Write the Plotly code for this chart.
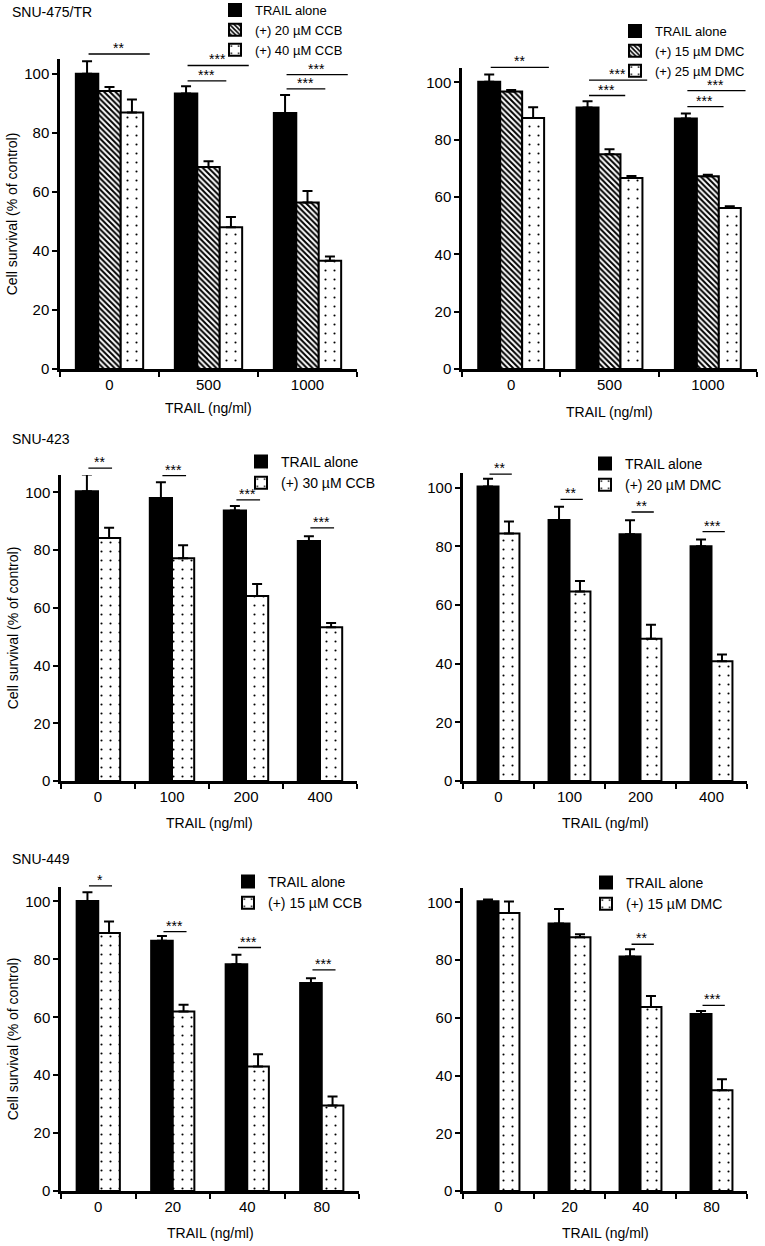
import plotly.graph_objects as go

FONT = "Liberation Sans, Arial, Helvetica, sans-serif"
W, H = 765, 1246

# ---------------- data ----------------
# SNU-475/TR + CCB
doses_475 = ["0", "500", "1000"]
trail_475a = [100.0, 93.3, 86.7]
trail_475a_err = [4.2, 2.5, 6.1]
ccb20_475 = [94.2, 68.4, 56.4]
ccb20_475_err = [1.3, 2.0, 3.9]
ccb40_475 = [86.9, 48.0, 36.7]
ccb40_475_err = [4.4, 3.5, 1.4]

# SNU-475/TR + DMC
trail_475b = [100.2, 91.2, 87.4]
trail_475b_err = [2.5, 2.2, 1.7]
dmc15_475 = [96.8, 74.9, 67.2]
dmc15_475_err = [0.5, 1.8, 0.6]
dmc25_475 = [87.6, 66.6, 56.2]
dmc25_475_err = [3.7, 0.7, 0.6]

# SNU-423
doses_423 = ["0", "100", "200", "400"]
trail_423a = [100.4, 98.0, 93.7, 83.1]
trail_423a_err = [5.8, 5.5, 1.6, 1.7]
ccb30_423 = [84.2, 77.2, 64.1, 53.3]
ccb30_423_err = [3.5, 4.5, 4.1, 1.4]
trail_423b = [100.4, 89.0, 84.1, 80.0]
trail_423b_err = [2.6, 4.5, 4.8, 2.3]
dmc20_423 = [84.4, 64.6, 48.5, 40.8]
dmc20_423_err = [4.1, 3.6, 4.8, 2.3]

# SNU-449
doses_449 = ["0", "20", "40", "80"]
trail_449a = [100.2, 86.4, 78.3, 71.8]
trail_449a_err = [3.0, 1.7, 3.3, 1.7]
ccb15_449 = [89.1, 62.0, 43.0, 29.5]
ccb15_449_err = [4.0, 2.3, 4.2, 3.1]
trail_449b = [100.4, 92.7, 81.3, 61.3]
trail_449b_err = [0.6, 5.0, 2.5, 1.1]
dmc15_449 = [96.3, 87.9, 63.8, 34.9]
dmc15_449_err = [4.0, 1.1, 3.8, 3.8]

# significance: (group index, from bar, to bar, level on the % axis, label)
sig_475_ccb = [(0, 0, 2, 106.7, "**"), (1, 0, 2, 102.8, "***"), (1, 0, 1, 97.6, "***"),
               (2, 0, 2, 99.7, "***"), (2, 0, 1, 94.9, "***")]
sig_475_dmc = [(0, 0, 2, 105.2, "**"), (1, 0, 2, 100.8, "***"), (1, 0, 1, 95.4, "***"),
               (2, 0, 2, 97.1, "***"), (2, 0, 1, 91.5, "***")]
sig_423_ccb = [(0, 0, 1, 108.4, "**"), (1, 0, 1, 105.8, "***"), (2, 0, 1, 97.4, "***"),
               (3, 0, 1, 87.7, "***")]
sig_423_dmc = [(0, 0, 1, 104.6, "**"), (1, 0, 1, 96.0, "**"), (2, 0, 1, 91.7, "**"),
               (3, 0, 1, 85.0, "***")]
sig_449_ccb = [(0, 0, 1, 105.4, "*"), (1, 0, 1, 89.6, "***"), (2, 0, 1, 84.1, "***"),
               (3, 0, 1, 76.4, "***")]
sig_449_dmc = [(2, 0, 1, 85.5, "**"), (3, 0, 1, 64.3, "***")]

# ---------------- styles / layout ----------------
STYLES = {
    "solid": dict(color="black", pattern=None),
    "hatch": dict(color="white", pattern=dict(shape="\\", fgcolor="black", bgcolor="white",
                                              size=4, solidity=0.5, fillmode="replace")),
    "dots": dict(color="white", pattern=dict(shape=".", fgcolor="black", bgcolor="white",
                                             size=9, solidity=0.045, fillmode="replace")),
}


def px_x(p):
    return p / W


def px_y(p):
    return 1 - p / H


panels = [
    dict(cats=doses_475, title="SNU-475/TR", ytitle=True, group=0.68, ext=0.18,
         series=[("TRAIL alone", trail_475a, trail_475a_err, "solid"),
                 ("(+) 20 \u00b5M CCB", ccb20_475, ccb20_475_err, "hatch"),
                 ("(+) 40 \u00b5M CCB", ccb40_475, ccb40_475_err, "dots")],
         sig=sig_475_ccb, xd=(60, 357), yd=(369, 59), yr=105, leg=(255, 9), legfont=13,
         xt=408, title_y=12),
    dict(cats=doses_475, title=None, ytitle=False, group=0.67, ext=0.16,
         series=[("TRAIL alone", trail_475b, trail_475b_err, "solid"),
                 ("(+) 15 \u00b5M DMC", dmc15_475, dmc15_475_err, "hatch"),
                 ("(+) 25 \u00b5M DMC", dmc25_475, dmc25_475_err, "dots")],
         sig=sig_475_dmc, xd=(462, 757), yd=(369, 68), yr=105, leg=(655, 30), legfont=13,
         xt=412),
    dict(cats=doses_423, title="SNU-423", ytitle=True, group=0.60, ext=0.04,
         series=[("TRAIL alone", trail_423a, trail_423a_err, "solid"),
                 ("(+) 30 \u00b5M CCB", ccb30_423, ccb30_423_err, "dots")],
         sig=sig_423_ccb, xd=(61, 357), yd=(781, 475), yr=106, leg=(281, 462), legfont=14,
         xt=823, title_y=439),
    dict(cats=doses_423, title=None, ytitle=False, group=0.59, ext=0.04,
         series=[("TRAIL alone", trail_423b, trail_423b_err, "solid"),
                 ("(+) 20 \u00b5M DMC", dmc20_423, dmc20_423_err, "dots")],
         sig=sig_423_dmc, xd=(463, 747), yd=(781, 473), yr=105, leg=(625, 464), legfont=14,
         xt=823),
    dict(cats=doses_449, title="SNU-449", ytitle=True, group=0.58, ext=0.04,
         series=[("TRAIL alone", trail_449a, trail_449a_err, "solid"),
                 ("(+) 15 \u00b5M CCB", ccb15_449, ccb15_449_err, "dots")],
         sig=sig_449_ccb, xd=(61, 359), yd=(1191, 887), yr=105, leg=(268, 882), legfont=14,
         xt=1233, title_y=859),
    dict(cats=doses_449, title=None, ytitle=False, group=0.59, ext=0.04,
         series=[("TRAIL alone", trail_449b, trail_449b_err, "solid"),
                 ("(+) 15 \u00b5M DMC", dmc15_449, dmc15_449_err, "dots")],
         sig=sig_449_dmc, xd=(463, 747), yd=(1191, 888), yr=105, leg=(626, 883), legfont=14,
         xt=1233),
]

fig = go.Figure()
annotations = []
layout_extra = {}

for k, p in enumerate(panels, start=1):
    xa = "x" if k == 1 else f"x{k}"
    ya = "y" if k == 1 else f"y{k}"
    ydom = f"{ya} domain"
    leg = "legend" if k == 1 else f"legend{k}"
    n = len(p["series"])
    bw = p["group"] / n
    offsets = [-p["group"] / 2 + i * bw for i in range(n)]

    for i, (name, vals, errs, sty) in enumerate(p["series"]):
        st = STYLES[sty]
        marker = dict(color=st["color"], line=dict(color="black", width=2))
        if st["pattern"]:
            marker["pattern"] = st["pattern"]
        fig.add_trace(go.Bar(
            x=p["cats"], y=vals, name=name, xaxis=xa, yaxis=ya, legend=leg,
            width=bw, offset=offsets[i], marker=marker,
            error_y=dict(type="data", symmetric=False, array=errs,
                         arrayminus=[0] * len(errs), color="black", thickness=2, width=5),
            showlegend=True,
        ))

    # significance bars (placed on the axis domain so they may sit above the axis top)
    for (g, b0, b1, yv, lab) in p["sig"]:
        x0 = g + offsets[b0] + bw / 2
        x1 = g + offsets[b1] + bw / 2 + p["ext"]
        yd = yv / p["yr"]
        annotations.append(dict(
            x=x1, y=yd, ax=x0, ay=yd, xref=xa, yref=ydom, axref=xa, ayref=ydom,
            showarrow=True, arrowhead=0, arrowwidth=1.3, arrowcolor="black", text=""))
        annotations.append(dict(
            x=(x0 + x1) / 2, y=yd, xref=xa, yref=ydom, text=lab, showarrow=False,
            yanchor="bottom", yshift=-4, font=dict(size=14, color="black", family=FONT)))

    # axes
    axis_common = dict(showline=True, linecolor="black", linewidth=2.5, ticks="outside",
                       tickcolor="black", tickwidth=2, ticklen=5, showgrid=False,
                       zeroline=False, tickfont=dict(size=15, color="black", family=FONT))
    layout_extra["xaxis" if k == 1 else f"xaxis{k}"] = dict(
        axis_common, domain=[px_x(p["xd"][0]), px_x(p["xd"][1])], anchor=ya,
        type="category", tickson="boundaries", range=[-0.5, len(p["cats"]) - 0.5])
    ydict = dict(axis_common, domain=[px_y(p["yd"][0]), px_y(p["yd"][1])], anchor=xa,
                 range=[0, p["yr"]], tick0=0, dtick=20)
    if p["ytitle"]:
        ydict["title"] = dict(text="Cell survival (% of control)",
                              font=dict(size=14, color="black", family=FONT), standoff=4)
    layout_extra["yaxis" if k == 1 else f"yaxis{k}"] = ydict

    # x-axis title
    annotations.append(dict(
        x=0.5, y=px_y(p["xt"]), xref=f"{xa} domain", yref="paper", text="TRAIL (ng/ml)",
        showarrow=False, xanchor="center", yanchor="middle",
        font=dict(size=14, color="black", family=FONT)))

    # legend
    off = 14 if p["legfont"] == 13 else 16
    layout_extra[leg] = dict(
        x=px_x(p["leg"][0] - 40), y=px_y(p["leg"][1] - off), xanchor="left", yanchor="top",
        bgcolor="rgba(0,0,0,0)", borderwidth=0, tracegroupgap=0,
        font=dict(size=p["legfont"], color="black", family=FONT))

    if p["title"]:
        annotations.append(dict(
            x=px_x(10), y=px_y(p["title_y"]), xref="paper", yref="paper", text=p["title"],
            showarrow=False, xanchor="left", yanchor="middle",
            font=dict(size=14, color="black", family=FONT)))

fig.update_layout(
    width=W, height=H, margin=dict(l=0, r=0, t=0, b=0, autoexpand=False),
    paper_bgcolor="white", plot_bgcolor="white", barmode="group",
    font=dict(family=FONT, color="black"),
    annotations=annotations, **layout_extra,
)

fig.write_html("out.html", config={"displayModeBar": False},
               post_script="document.body.style.margin='0';")
